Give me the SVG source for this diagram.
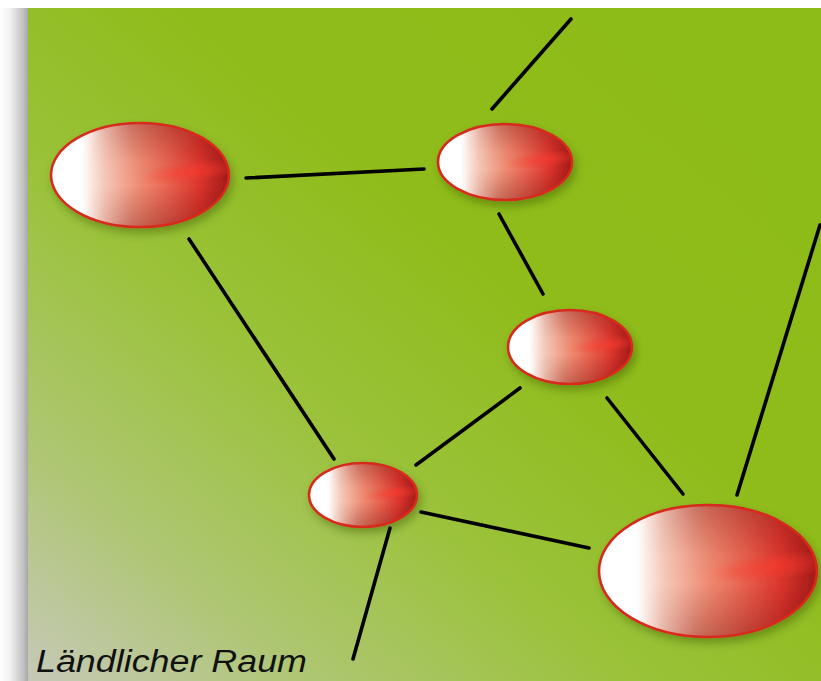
<svg xmlns="http://www.w3.org/2000/svg" width="821" height="681" viewBox="0 0 821 681">
  <defs>
    <!-- field: saturated green fading to a pale grey-green at lower left -->
    <linearGradient id="field" x1="1" y1="0" x2="0" y2="1">
      <stop offset="0" stop-color="#8dbb17"/>
      <stop offset="0.4" stop-color="#8fbc1a"/>
      <stop offset="0.62" stop-color="#9bc23a"/>
      <stop offset="0.82" stop-color="#aec672"/>
      <stop offset="1" stop-color="#c6c9b8"/>
    </linearGradient>
    <!-- soft shadow down the left margin -->
    <linearGradient id="edge" x1="0" y1="0" x2="1" y2="0">
      <stop offset="0" stop-color="#ffffff"/>
      <stop offset="0.35" stop-color="#f2f2f2"/>
      <stop offset="0.8" stop-color="#c4c4c4"/>
      <stop offset="1" stop-color="#a8a8a8"/>
    </linearGradient>
    <!-- node body: white to red, left to right -->
    <linearGradient id="body" x1="0" y1="0" x2="1" y2="0">
      <stop offset="0" stop-color="#ffffff"/>
      <stop offset="0.17" stop-color="#ffffff"/>
      <stop offset="0.3" stop-color="#f5c9b9"/>
      <stop offset="0.5" stop-color="#ef8c73"/>
      <stop offset="0.68" stop-color="#e75e4b"/>
      <stop offset="0.83" stop-color="#dc362d"/>
      <stop offset="1" stop-color="#a21a18"/>
    </linearGradient>
    <!-- darker rims top and bottom -->
    <linearGradient id="shade" x1="0" y1="0" x2="0" y2="1">
      <stop offset="0" stop-color="#6e0c0c" stop-opacity="0.4"/>
      <stop offset="0.38" stop-color="#6e0c0c" stop-opacity="0.04"/>
      <stop offset="0.6" stop-color="#6e0c0c" stop-opacity="0"/>
      <stop offset="1" stop-color="#6e0c0c" stop-opacity="0.42"/>
    </linearGradient>
    <linearGradient id="fadeIn" x1="0" y1="0" x2="1" y2="0">
      <stop offset="0.2" stop-color="#fff" stop-opacity="0"/>
      <stop offset="0.45" stop-color="#fff" stop-opacity="0.75"/>
      <stop offset="1" stop-color="#fff" stop-opacity="1"/>
    </linearGradient>
    <mask id="rightSide" maskContentUnits="objectBoundingBox">
      <rect x="0" y="0" width="1" height="1" fill="url(#fadeIn)"/>
    </mask>
    <!-- glossy streak on the right, slanted -->
    <radialGradient id="gloss" cx="0.8" cy="0.47" r="0.3" gradientTransform="translate(0.8 0.47) rotate(-12) scale(1 0.35) translate(-0.8 -0.47)">
      <stop offset="0" stop-color="#ff3a2e" stop-opacity="0.6"/>
      <stop offset="1" stop-color="#ff3a2e" stop-opacity="0"/>
    </radialGradient>
    <filter id="drop" x="-20%" y="-20%" width="150%" height="160%">
      <feDropShadow dx="3" dy="5" stdDeviation="4" flood-color="#2f4a00" flood-opacity="0.4"/>
    </filter>
    <style>
      .link { stroke: #000; stroke-width: 3.6; stroke-linecap: round; fill: none; }
      .base { fill: url(#body); }
      .dark { fill: url(#shade); }
      .shine { fill: url(#gloss); }
      .rim { fill: none; stroke: #d62a1f; stroke-width: 2.6; }
      .label { font-family: "Liberation Sans", Arial, sans-serif; font-style: italic; font-size: 31px; fill: #111; }
    </style>
  </defs>

  <!-- paper and background field -->
  <rect x="0" y="0" width="821" height="681" fill="#ffffff"/>
  <rect x="0" y="8" width="28" height="673" fill="url(#edge)"/>
  <rect x="28" y="8" width="793" height="673" fill="url(#field)"/>

  <!-- connectors -->
  <g id="connectors">
    <line class="link" x1="571" y1="19" x2="492" y2="109"/>
    <line class="link" x1="246" y1="178" x2="424" y2="169"/>
    <line class="link" x1="499" y1="214" x2="543" y2="294"/>
    <line class="link" x1="189" y1="239" x2="334" y2="459"/>
    <line class="link" x1="520" y1="388" x2="416" y2="465"/>
    <line class="link" x1="607" y1="398" x2="683" y2="494"/>
    <line class="link" x1="820" y1="225" x2="737" y2="495"/>
    <line class="link" x1="421" y1="512" x2="589" y2="548"/>
    <line class="link" x1="390" y1="528" x2="353" y2="659"/>
  </g>

  <!-- nodes -->
  <g id="node-west" filter="url(#drop)">
    <ellipse class="base" cx="140" cy="175" rx="89" ry="52"/>
    <ellipse class="dark" cx="140" cy="175" rx="89" ry="52" mask="url(#rightSide)"/>
    <ellipse class="shine" cx="140" cy="175" rx="89" ry="52"/>
    <ellipse class="rim" cx="140" cy="175" rx="89" ry="52"/>
  </g>
  <g id="node-north" filter="url(#drop)">
    <ellipse class="base" cx="505" cy="162" rx="67" ry="38"/>
    <ellipse class="dark" cx="505" cy="162" rx="67" ry="38" mask="url(#rightSide)"/>
    <ellipse class="shine" cx="505" cy="162" rx="67" ry="38"/>
    <ellipse class="rim" cx="505" cy="162" rx="67" ry="38"/>
  </g>
  <g id="node-center" filter="url(#drop)">
    <ellipse class="base" cx="570" cy="347" rx="62" ry="37"/>
    <ellipse class="dark" cx="570" cy="347" rx="62" ry="37" mask="url(#rightSide)"/>
    <ellipse class="shine" cx="570" cy="347" rx="62" ry="37"/>
    <ellipse class="rim" cx="570" cy="347" rx="62" ry="37"/>
  </g>
  <g id="node-small" filter="url(#drop)">
    <ellipse class="base" cx="363" cy="495" rx="54" ry="32"/>
    <ellipse class="dark" cx="363" cy="495" rx="54" ry="32" mask="url(#rightSide)"/>
    <ellipse class="shine" cx="363" cy="495" rx="54" ry="32"/>
    <ellipse class="rim" cx="363" cy="495" rx="54" ry="32"/>
  </g>
  <g id="node-large" filter="url(#drop)">
    <ellipse class="base" cx="708" cy="571" rx="109" ry="66"/>
    <ellipse class="dark" cx="708" cy="571" rx="109" ry="66" mask="url(#rightSide)"/>
    <ellipse class="shine" cx="708" cy="571" rx="109" ry="66"/>
    <ellipse class="rim" cx="708" cy="571" rx="109" ry="66"/>
  </g>

  <!-- caption -->
  <text class="label" x="36" y="672" textLength="271" lengthAdjust="spacingAndGlyphs">Ländlicher Raum</text>
</svg>
